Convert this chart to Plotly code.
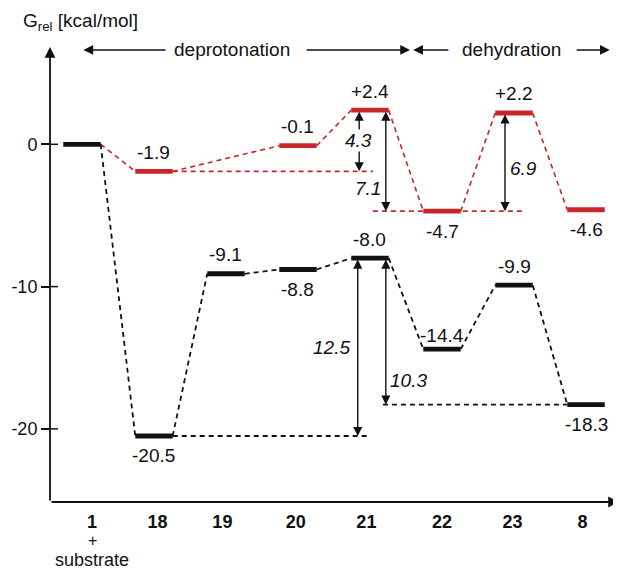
import plotly.graph_objects as go

# ---------------- data ----------------
categories = ["1", "18", "19", "20", "21", "22", "23", "8"]
black_G = [0.0, -20.5, -9.1, -8.8, -8.0, -14.4, -9.9, -18.3]
red_G = [0.0, -1.9, None, -0.1, 2.4, -4.7, 2.2, -4.6]
black_text = ["", "-20.5", "-9.1", "-8.8", "-8.0", "-14.4", "-9.9", "-18.3"]
red_text = ["", "-1.9", "", "-0.1", "+2.4", "-4.7", "+2.2", "-4.6"]
y_ticks = [0, -10, -20]
y_tick_text = ["0", "-10", "-20"]
barrier_text = ["4.3", "7.1", "6.9", "12.5", "10.3"]
section_text = ["deprotonation", "dehydration"]
first_sub = ["+", "substrate"]

# ---------------- style ----------------
BLACK = "#111111"
RED = "#c8262b"
FONT = "Liberation Sans, Arial, Helvetica, sans-serif"
FS = 19
HW = 0.26  # half width of a level bar (category units)
DASH = "5px,4px"
PW, PH = 562, 462  # plot area size in px

black_label_side = [0, -1, 1, -1, 1, 1, 1, -1]
red_label_side = [0, 1, 0, 1, 1, -1, 1, -1]
tick_offsets = [0.14, 0.05, -0.05, -0.03, -0.05, 0, -0.02, -0.05]


def level_xy(vals, skip_first=False):
    xs, ys = [], []
    for i, v in enumerate(vals):
        if v is None or (skip_first and i == 0):
            continue
        xs += [i - HW, i + HW, None]
        ys += [v, v, None]
    return xs, ys


def connector_xy(vals):
    pts = [(i, v) for i, v in enumerate(vals) if v is not None]
    xs, ys = [], []
    for (i, v), (j, w) in zip(pts[:-1], pts[1:]):
        xs += [i + HW, j - HW, None]
        ys += [v, w, None]
    return xs, ys


fig = go.Figure()

# connectors
for vals, col, w in [(red_G, RED, 1.6), (black_G, BLACK, 1.8)]:
    cx, cy = connector_xy(vals)
    fig.add_trace(go.Scatter(x=cx, y=cy, mode="lines",
                             line=dict(color=col, width=w, dash=DASH),
                             hoverinfo="skip"))

# reference (extension) dashed lines
ext = [
    (RED, 1.6, 1 + HW, 4.04, red_G[1]),
    (RED, 1.6, 4.04, 6.11, red_G[5]),
    (BLACK, 1.8, 1 + HW, 3.97, black_G[1]),
    (BLACK, 1.8, 4.18, 7 - HW, black_G[7]),
]
for col, w, x0, x1, v in ext:
    fig.add_trace(go.Scatter(x=[x0, x1], y=[v, v], mode="lines",
                             line=dict(color=col, width=w, dash=DASH),
                             hoverinfo="skip"))

# levels
for vals, col, skip in [(red_G, RED, True), (black_G, BLACK, False)]:
    lx, ly = level_xy(vals, skip)
    fig.add_trace(go.Scatter(x=lx, y=ly, mode="lines",
                             line=dict(color=col, width=4.8),
                             hoverinfo="skip"))

annotations = []

# level labels
for vals, texts, sides in [(black_G, black_text, black_label_side),
                           (red_G, red_text, red_label_side)]:
    for i, (v, t, s) in enumerate(zip(vals, texts, sides)):
        if not t or v is None:
            continue
        shift = 19 if s > 0 else -20
        if t == "-14.4":
            shift = 14
        annotations.append(dict(x=i, y=v, xref="x", yref="y", text=t,
                                showarrow=False, yshift=shift,
                                font=dict(size=FS, color=BLACK)))


def darrow(x, y_top, y_bot):
    return dict(x=x, y=y_bot, ax=x, ay=y_top, xref="x", yref="y",
                axref="x", ayref="y", text="", showarrow=True,
                arrowhead=2, startarrowhead=2, arrowside="end+start",
                arrowsize=1.3, startarrowsize=1.3, arrowwidth=1.4,
                arrowcolor=BLACK, standoff=0, startstandoff=0)


# barrier arrows: (x, top value, bottom value, label x, label y)
barriers = [
    (3.85, red_G[4], red_G[1], 3.84, (red_G[4] + red_G[1]) / 2),
    (4.22, red_G[4], red_G[5], 3.97, -3.1),
    (5.875, red_G[6], red_G[5], 6.13, -1.7),
    (3.83, black_G[4], black_G[1], 3.46, (black_G[4] + black_G[1]) / 2),
    (4.22, black_G[4], black_G[7], 4.53, -16.6),
]
for (x, yt, yb, lx, ly), t in zip(barriers, barrier_text):
    annotations.append(darrow(x, yt, yb))
    lab = dict(x=lx, y=ly, xref="x", yref="y",
               text=f"<i>{t}</i>", showarrow=False,
               font=dict(size=FS, color=BLACK))
    if t == "4.3":
        lab.update(bgcolor="white", borderpad=0)
    annotations.append(lab)

# section arrows
Y_SEC = 6.63


def sarrow(x_tail, x_head):
    return dict(x=x_head, y=Y_SEC, ax=x_tail, ay=Y_SEC, xref="x", yref="y",
                axref="x", ayref="y", text="", showarrow=True,
                arrowhead=2, arrowsize=1.3, arrowwidth=1.5,
                arrowcolor=BLACK, standoff=0, startstandoff=0)


annotations += [sarrow(1.18, 0.02), sarrow(3.10, 4.556),
                sarrow(5.11, 4.60), sarrow(6.85, 7.33)]
annotations.append(dict(x=2.09, y=Y_SEC, xref="x", yref="y",
                        text=section_text[0], showarrow=False,
                        font=dict(size=FS, color=BLACK)))
annotations.append(dict(x=5.965, y=Y_SEC, xref="x", yref="y",
                        text=section_text[1], showarrow=False,
                        font=dict(size=FS, color=BLACK)))

# axes with arrowheads
Y_TIP = (502 - 47) / PH
annotations.append(dict(x=0, y=Y_TIP, xref="paper", yref="paper", ax=0,
                        ay=Y_TIP * PH, text="", showarrow=True, arrowhead=2,
                        arrowsize=1.2, arrowwidth=1.8, arrowcolor=BLACK,
                        standoff=0, startstandoff=0))
X_TIP = (619 - 50) / PW
annotations.append(dict(x=X_TIP, y=0, xref="paper", yref="paper",
                        ax=-X_TIP * PW, ay=0, text="", showarrow=True,
                        arrowhead=2, arrowsize=1.2, arrowwidth=1.8,
                        arrowcolor=BLACK, standoff=0, startstandoff=0))

# axis title
annotations.append(dict(x=-29 / PW, y=(502 - 22) / PH, xref="paper",
                        yref="paper", xanchor="left", yanchor="middle",
                        text="G<sub>rel</sub> [kcal/mol]", showarrow=False,
                        font=dict(size=19, color=BLACK)))

# "+ substrate" under category 1
annotations.append(dict(x=tick_offsets[0], y=(502 - 540) / PH, xref="x",
                        yref="paper", yanchor="middle",
                        text=first_sub[0], showarrow=False,
                        font=dict(size=16, color=BLACK)))
annotations.append(dict(x=tick_offsets[0], y=(502 - 560) / PH, xref="x",
                        yref="paper", yanchor="middle",
                        text=first_sub[1], showarrow=False,
                        font=dict(size=18, color=BLACK)))

shapes = [dict(type="line", xref="paper", yref="y", x0=0, x1=8 / PW,
               y0=v, y1=v, line=dict(color=BLACK, width=1.5))
          for v in y_ticks]

# the page body has an 8px margin: compensate so the plot area lands
# at x 50..612, y 40..502 of the 621x571 window
fig.update_layout(
    width=613, height=563,
    margin=dict(l=42, r=9, t=32, b=69, autoexpand=False),
    plot_bgcolor="white", paper_bgcolor="white",
    showlegend=False,
    font=dict(family=FONT, size=FS, color=BLACK),
    annotations=annotations,
    shapes=shapes,
)
fig.update_xaxes(range=[-0.444, 7.361], showgrid=False, zeroline=False,
                 showline=False,
                 tickvals=[i + o for i, o in enumerate(tick_offsets)],
                 ticktext=[f"<b>{c}</b>" for c in categories], ticks="",
                 automargin=False,
                 ticklabelstandoff=7, tickfont=dict(size=18, color=BLACK))
fig.update_yaxes(range=[-25.14, 7.33], showgrid=False, zeroline=False,
                 showline=False, tickvals=y_ticks, ticktext=y_tick_text,
                 ticks="outside", ticklen=8, tickwidth=1.5, tickcolor=BLACK,
                 automargin=False,
                 tickfont=dict(size=18, color=BLACK))

fig.write_html("out.html")
